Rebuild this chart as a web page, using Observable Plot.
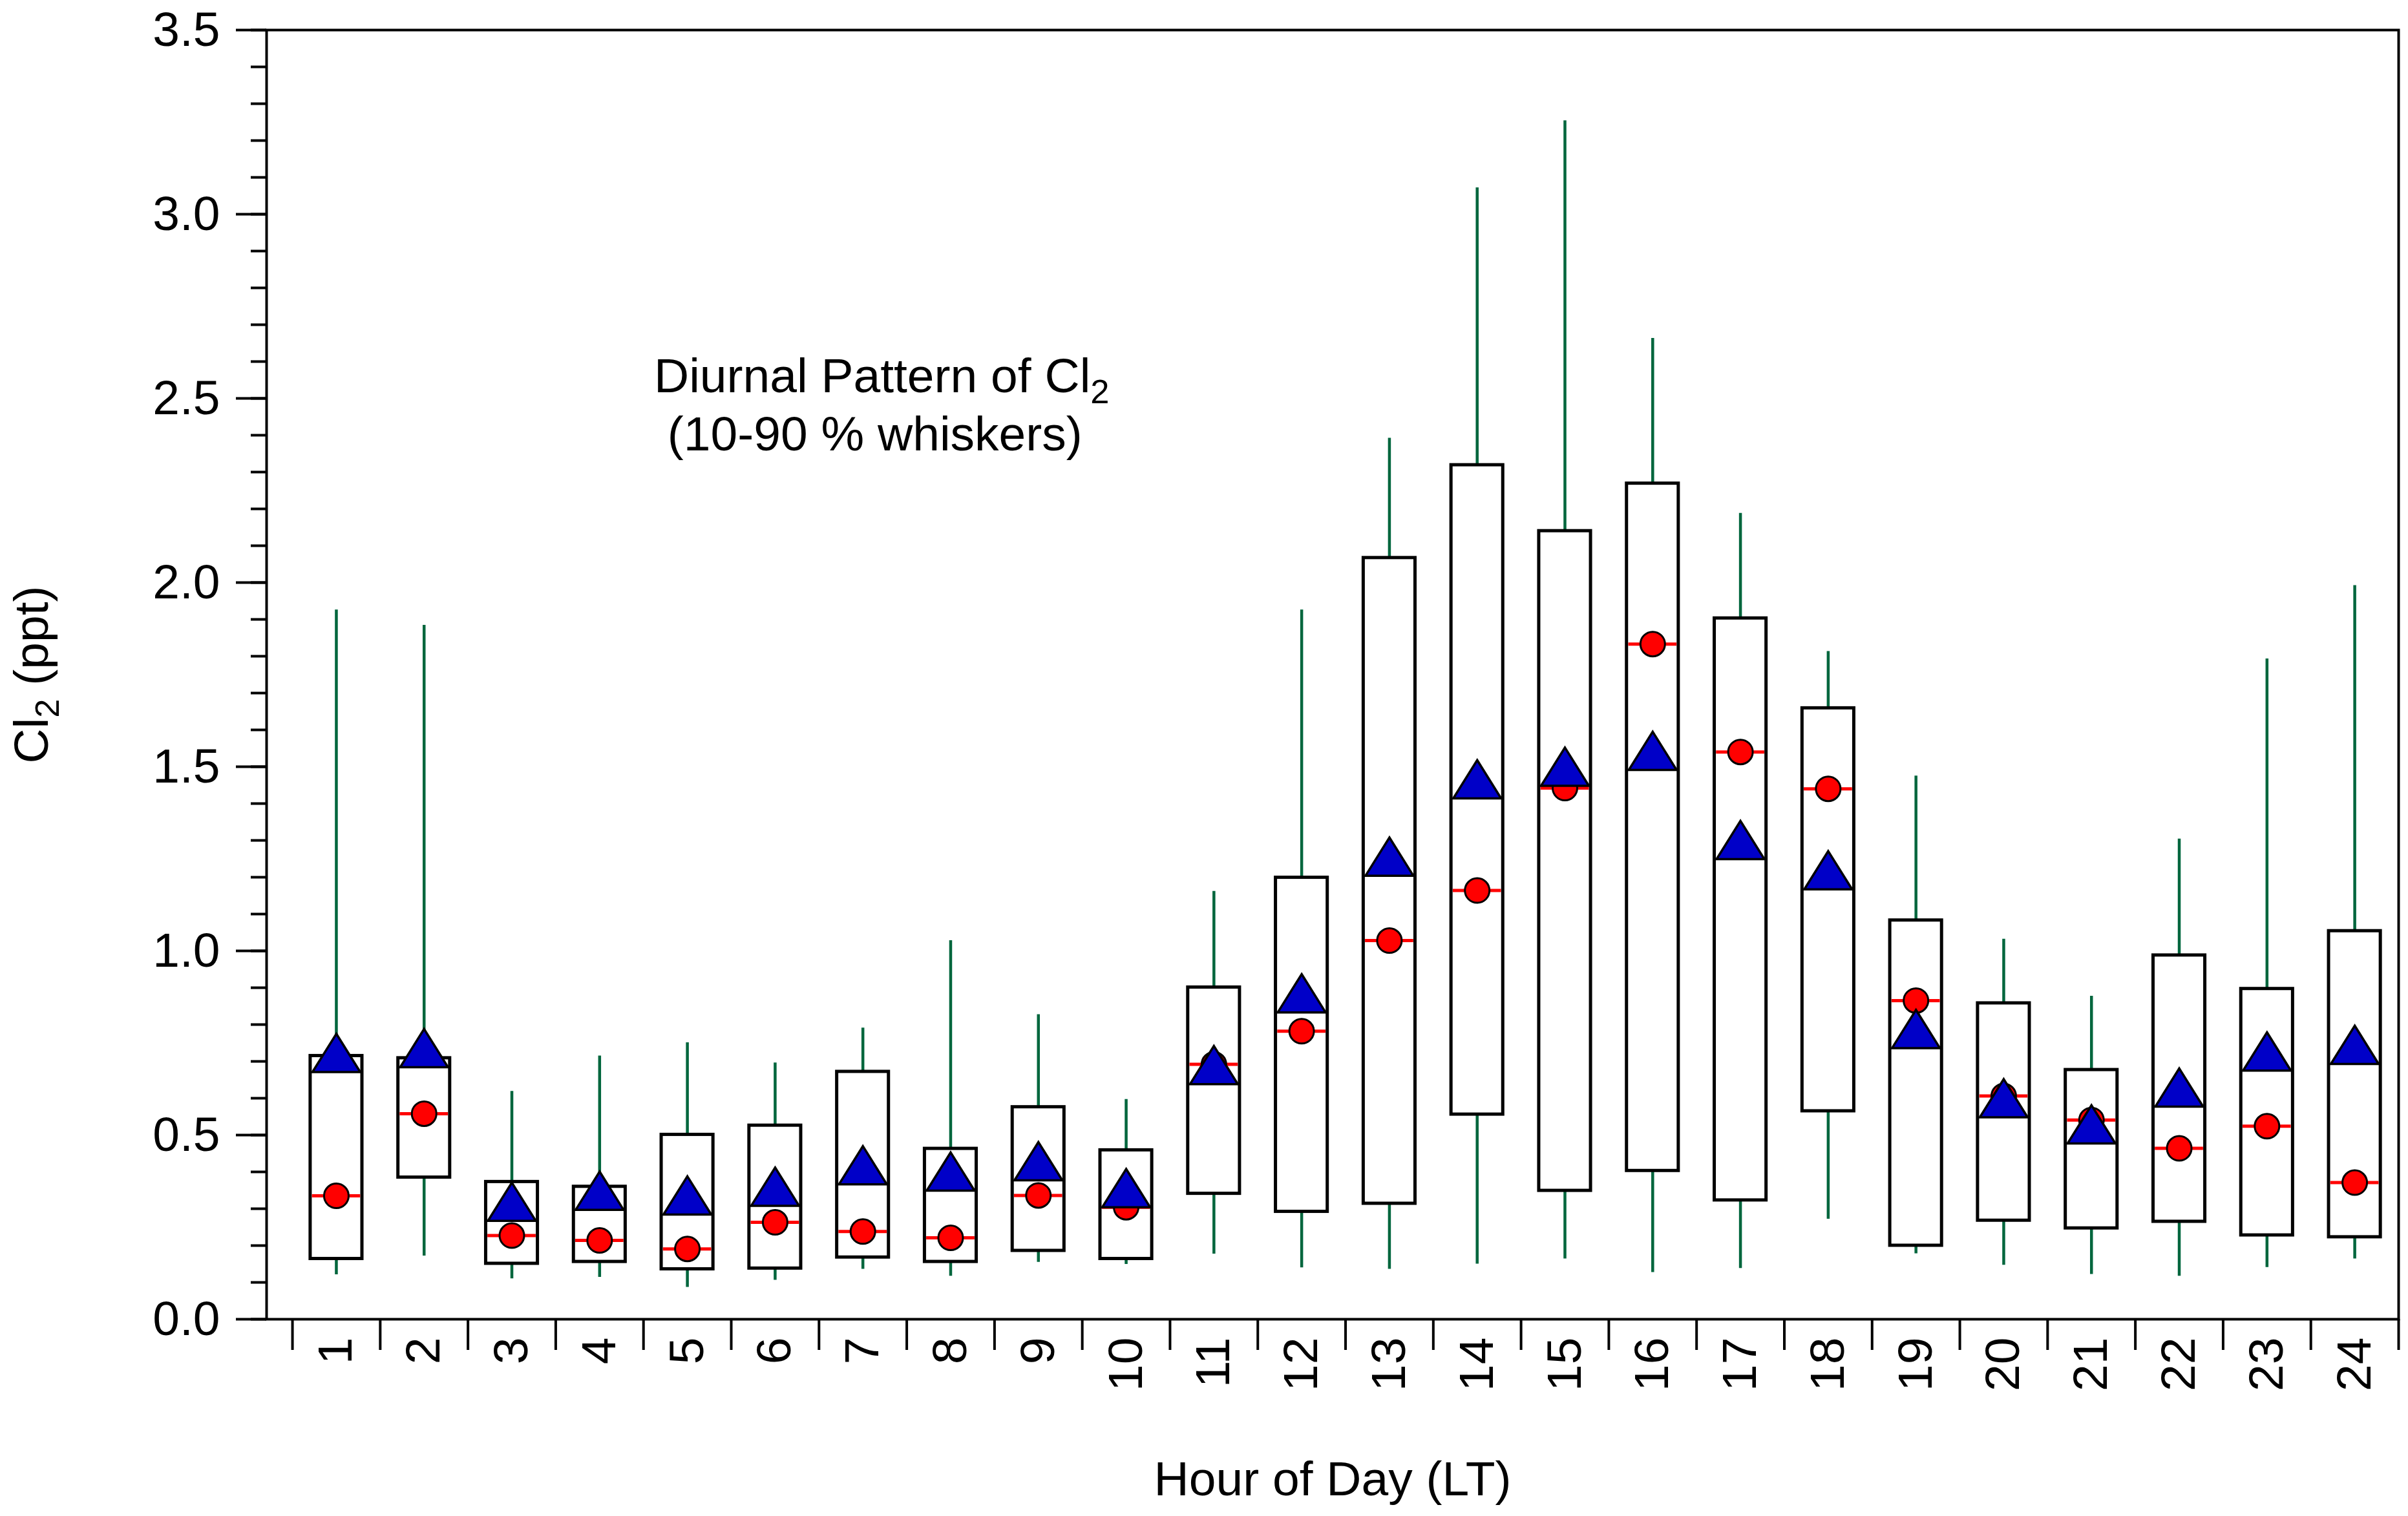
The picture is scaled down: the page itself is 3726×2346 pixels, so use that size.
<!DOCTYPE html>
<html>
<head>
<meta charset="utf-8">
<script src="https://cdn.jsdelivr.net/npm/d3@7"></script>
<script src="https://cdn.jsdelivr.net/npm/@observablehq/plot@0.6"></script>
<style>
  body { margin: 0; background: white; }
</style>
</head>
<body>
<div id="chart"></div>
<script>
// hourly Cl2 statistics (ppt)
const hours = [1, 2, 3, 4, 5, 6, 7, 8, 9, 10, 11, 12, 13, 14, 15, 16, 17, 18, 19, 20, 21, 22, 23, 24]
const p90 = [1.926, 1.884, 0.619, 0.715, 0.751, 0.696, 0.791, 1.028, 0.827, 0.597, 1.162, 1.926, 2.392, 3.072, 3.254, 2.663, 2.188, 1.813, 1.475, 1.032, 0.877, 1.304, 1.793, 1.992]
const p75 = [0.715, 0.709, 0.373, 0.360, 0.501, 0.526, 0.672, 0.463, 0.576, 0.459, 0.901, 1.199, 2.067, 2.319, 2.140, 2.269, 1.903, 1.659, 1.083, 0.858, 0.677, 0.988, 0.897, 1.054]
const p25 = [0.164, 0.385, 0.151, 0.156, 0.136, 0.138, 0.168, 0.156, 0.186, 0.164, 0.341, 0.292, 0.314, 0.556, 0.349, 0.403, 0.323, 0.565, 0.200, 0.268, 0.247, 0.265, 0.228, 0.223]
const p10 = [0.121, 0.172, 0.110, 0.114, 0.087, 0.106, 0.136, 0.117, 0.155, 0.149, 0.177, 0.140, 0.136, 0.150, 0.164, 0.127, 0.138, 0.272, 0.178, 0.147, 0.122, 0.117, 0.141, 0.164]
const median = [0.335, 0.558, 0.227, 0.214, 0.191, 0.263, 0.238, 0.221, 0.336, 0.304, 0.692, 0.782, 1.028, 1.164, 1.442, 1.833, 1.540, 1.440, 0.865, 0.606, 0.541, 0.464, 0.524, 0.371]
const mean = [0.723, 0.736, 0.319, 0.349, 0.336, 0.360, 0.418, 0.401, 0.429, 0.356, 0.690, 0.885, 1.256, 1.466, 1.500, 1.543, 1.301, 1.219, 0.788, 0.600, 0.529, 0.629, 0.727, 0.745]

const yMajorTicks = [0, 0.5, 1.0, 1.5, 2.0, 2.5, 3.0, 3.5]
const yMinorTicks = d3.range(0, 36).map(i => i / 10)
const xBoundaryTicks = hours.map(h => h - 0.5).concat([24.5])

const noteText = "Diurnal Pattern of Cl2\n\u00A0(10-90 % whiskers)"
const noteX = 4.62
const noteY = 2.628

const data = hours.map((h, i) => ({
  hour: h, p10: p10[i], p25: p25[i], median: median[i], p75: p75[i], p90: p90[i], mean: mean[i]
}))

const half = 0.295
const font = "'Liberation Sans', Arial, Helvetica, sans-serif"

// triangle centred on its bounding box
const triangle = {
  draw(context, size) {
    const r = Math.sqrt(size / Math.PI)
    const h = r * 0.8
    context.moveTo(0, -h)
    context.lineTo(r, h)
    context.lineTo(-r, h)
    context.closePath()
  }
}

let chart = Plot.plot({
  width: 3726,
  height: 2346,
  marginTop: 46,
  marginLeft: 412,
  marginRight: 15,
  marginBottom: 305,
  style: {fontFamily: font, fontSize: "75px", background: "white", color: "black"},
  x: {type: "linear", domain: [0.205, 24.5], axis: null},
  y: {domain: [0, 3.5], axis: null},
  marks: [
    Plot.ruleX(data, {x: "hour", y1: "p10", y2: "p90", stroke: "#00663d", strokeWidth: 4.5}),
    Plot.rect(data, {
      x1: d => d.hour - half, x2: d => d.hour + half,
      y1: "p25", y2: "p75",
      fill: "white", stroke: "black", strokeWidth: 5
    }),
    Plot.ruleY(data, {
      y: "median", x1: d => d.hour - half + 0.02, x2: d => d.hour + half - 0.02,
      stroke: "#ff0000", strokeWidth: 5
    }),
    Plot.dot(data, {x: "hour", y: "median", r: 19, fill: "#ff0000", stroke: "black", strokeWidth: 3}),
    Plot.dot(data, {x: "hour", y: "mean", r: 37, symbol: triangle, fill: "#0000c8", stroke: "black", strokeWidth: 3.5}),
    Plot.text([noteText], {
      x: noteX, y: noteY, text: d => d,
      textAnchor: "start", lineAnchor: "top", lineHeight: 1.2, fontSize: 75
    }),
    Plot.axisY({ticks: yMinorTicks, tickSize: 24, tickFormat: () => "", strokeWidth: 4, label: null}),
    Plot.axisY({
      ticks: yMajorTicks, tickSize: 47, tickPadding: 25, tickFormat: d3.format(".1f"),
      strokeWidth: 4, fontSize: 75,
      label: "Cl2 (ppt)", labelAnchor: "center", labelOffset: 392, labelArrow: "none"
    }),
    Plot.axisX({ticks: xBoundaryTicks, tickSize: 48, tickFormat: () => "", strokeWidth: 4, label: null}),
    Plot.axisX({
      ticks: hours, tickSize: 0, tickPadding: 28, tickRotate: -90, fontSize: 75,
      label: "Hour of Day (LT)", labelAnchor: "center", labelOffset: 272, labelArrow: "none"
    }),
    Plot.frame({stroke: "black", strokeWidth: 4})
  ]
})

// Cl2 -> Cl with subscript 2
chart.querySelectorAll("text, tspan").forEach(el => {
  if (el.children.length) return
  const s = el.textContent
  if (!s.includes("Cl2")) return
  const parts = s.split("Cl2")
  el.textContent = ""
  parts.forEach((p, i) => {
    if (i > 0) {
      el.appendChild(document.createTextNode("Cl"))
      const t = document.createElementNS("http://www.w3.org/2000/svg", "tspan")
      t.setAttribute("font-size", "70%")
      t.setAttribute("baseline-shift", "-0.33em")
      t.textContent = "2"
      el.appendChild(t)
    }
    if (p) el.appendChild(document.createTextNode(p))
  })
})

d3.select('#chart').append(() => chart)
</script>
</body>
</html>
